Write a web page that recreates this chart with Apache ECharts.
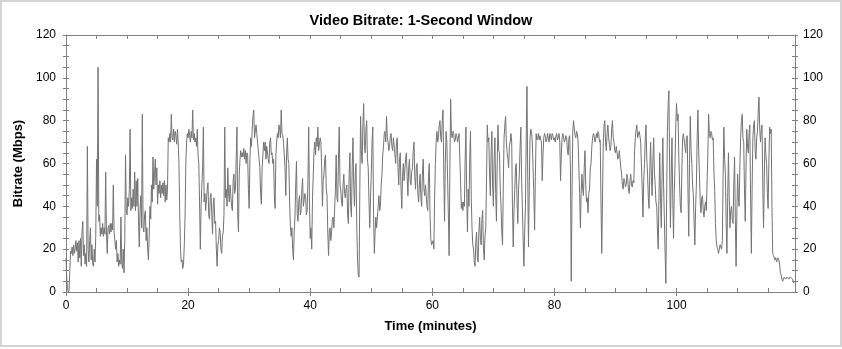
<!DOCTYPE html>
<html><head><meta charset="utf-8">
<script src="https://cdn.jsdelivr.net/npm/echarts@6/dist/echarts.min.js"></script>
<style>
html,body{margin:0;padding:0;background:#fff;}
#wrap{position:relative;width:842px;height:349px;overflow:hidden;}
#c{position:absolute;left:0;top:0;width:842px;height:349px;}
#frame{position:absolute;left:0;top:0;width:838px;height:343px;border:2px solid #d4d4d4;pointer-events:none;}
</style>
</head><body>
<div id="wrap"><div id="c"></div><div id="frame"></div></div>
<script>
// Sample spacing of the bitrate trace (minutes)
const SAMPLE_MIN = 0.125;
// Bitrate (Mbps), 8 samples per minute, split by 20-minute segments
const bitrate0to20 = [
 16,6,2,0,1,10,19,18, 21,17,22,18,20,24,19,23, 14,24,16,25,12,28,33,17, 22,13,18,12,68,20,14,24, 30,15,22,13,12,20,14,26,
 62,40,105,33,36,26,30,27, 32,26,30,27,56,28,18,30, 31,27,32,28,32,29,50,28, 28,20,24,14,18,12,15,13, 35,14,11,20,9,25,64,38,
 36,44,40,48,76,38,44,39, 48,40,56,38,52,40,53,33, 21,38,45,30,83,30,28,36, 38,24,30,20,15,26,40,34, 50,42,63,48,55,62,50,58,
 41,50,46,52,44,50,46,51, 45,52,42,50,43,48,72,70, 74,70,83,72,71,76,70,75, 73,69,76,70,60,38,20,14, 15,11,13,22,35,60,70,74
];
const bitrate20to40 = [
 72,76,73,70,75,72,85,71, 74,70,72,68,76,64,60,42, 20,40,50,58,77,42,46,38, 38,48,51,36,34,44,46,36, 27,42,44,32,33,20,12,22,
 24,30,28,20,18,26,28,36, 77,44,48,40,58,46,42,50, 50,40,38,52,55,46,48,62, 77,36,28,55,62,66,63,65, 63,67,62,66,60,65,64,48,
 39,62,72,68,76,82,85,72, 72,78,74,70,70,62,58,46, 41,58,64,70,66,70,62,68, 68,62,60,70,72,64,65,60, 62,45,39,64,70,74,72,78,
 76,72,85,74,73,70,70,58, 45,64,72,62,60,42,31,26, 30,20,15,28,35,50,61,36, 33,42,45,36,38,48,53,40, 40,46,44,36,38,52,77,42
];
const bitrate40to60 = [
 25,30,20,44,55,66,70,64, 72,68,77,66,66,72,70,58, 40,52,55,62,64,48,45,28, 17,28,30,24,28,34,35,30, 30,48,64,44,42,62,77,50,
 48,42,40,50,55,46,44,48, 50,36,32,55,65,40,35,58, 72,50,40,55,60,30,15,8, 7,48,82,66,60,78,88,68, 65,76,80,62,58,42,30,44,
 55,70,77,36,18,28,35,30, 30,40,45,38,40,50,55,64, 68,74,75,70,82,72,70,66, 68,73,74,68,66,72,72,64, 60,70,72,58,50,62,65,48,
 39,54,60,52,52,62,65,54, 45,58,62,52,50,56,58,66, 70,54,48,58,60,46,42,50, 55,44,40,55,62,48,45,50, 50,40,38,54,60,36,25,22
];
const bitrate60to80 = [
 22,24,20,44,60,70,75,70, 72,78,80,72,70,80,85,56, 33,60,75,70,70,36,17,58, 90,74,72,75,74,70,71,74, 73,70,70,74,74,52,39,42,
 38,42,40,62,77,46,28,48, 40,62,75,44,30,22,20,14, 12,24,28,16,14,28,35,24, 22,34,38,20,15,26,30,52, 78,70,72,55,45,64,75,50,
 40,62,72,46,33,60,78,66, 65,48,40,28,22,50,72,78, 82,70,65,62,58,68,70,74, 70,40,21,38,48,58,60,42, 32,48,55,68,77,52,40,24,
 12,28,40,72,96,55,21,48, 72,76,75,70,70,46,29,54, 74,71,72,74,71,73,73,70, 52,64,72,74,73,70,71,74, 72,70,74,73,71,74,73,71
];
const bitrate80to100 = [
 72,70,73,74,71,72,74,70, 52,64,72,74,74,70,71,73, 72,66,64,72,73,56,5,44, 75,80,80,73,72,75,74,70, 70,46,30,46,55,48,45,58,
 66,50,42,44,37,46,48,58, 60,68,72,74,73,70,71,74, 72,75,74,70,71,42,18,44, 70,78,80,70,66,74,78,72, 72,66,68,76,80,72,70,66,
 65,68,68,62,63,66,66,58, 55,50,48,53,52,49,50,55, 53,48,46,52,55,50,49,52, 51,66,72,76,78,72,72,75, 73,70,70,48,35,52,60,72,
 78,62,55,44,39,58,70,54, 45,62,72,56,50,42,40,28, 20,46,65,44,30,54,72,50, 35,18,4,44,75,88,94,56, 30,54,72,44,25,46,60,78
];
const bitrate100toEnd = [
 88,80,83,62,50,40,37,58, 72,74,74,68,65,72,73,46, 26,60,82,66,60,50,45,32, 22,40,50,72,85,66,55,42, 37,44,45,38,35,40,42,38,
 38,64,83,74,72,75,74,71, 72,56,47,32,24,21,20,18, 18,22,22,20,24,54,77,62, 55,32,18,44,65,44,30,38, 40,34,32,50,63,34,12,36,
 55,44,40,60,72,80,83,72, 70,48,33,58,76,68,65,74, 78,44,18,48,72,78,80,66, 62,72,75,84,91,76,70,76, 78,50,30,54,72,64,60,46,
 39,62,77,74,76,40,18,17, 17,15,16,14,14,16,15,13, 9,8,6,5,5,7,7,6, 6.5,7,7.5,6,6,7,7,6.5, 6,5,4
];
// Axis settings
const X_MAX = 119.4;
const xMajorTicks = [0, 20, 40, 60, 80, 100];
const xMinorTicks = [0,5,10,15,20,25,30,35,40,45,50,55,60,65,70,75,80,85,90,95,100,105,110,115];
const Y_MIN = 0, Y_MAX = 120, Y_STEP = 20;

const allValues = [].concat(bitrate0to20, bitrate20to40, bitrate40to60, bitrate60to80, bitrate80to100, bitrate100toEnd);
const seriesData = allValues.map((v, i) => [i * SAMPLE_MIN, v]);

const AX = '#808080';
const FONT = 'Liberation Sans, Arial, sans-serif';
const lbl = {color:'#000', fontSize:12, fontFamily:FONT};

function yAx(pos, withLabels, inside) {
  return {
    type:'value', position:pos, min:Y_MIN, max:Y_MAX, interval:Y_STEP,
    axisLine:{show:withLabels, onZero:false, lineStyle:{color:AX, width:1}},
    axisTick:{show:true, inside:inside, length:3, lineStyle:{color:AX}},
    minorTick:{show:true, splitNumber:4, length:3, lineStyle:{color:AX}},
    axisLabel:withLabels ? Object.assign({margin: pos==='left'?10:8}, lbl) : {show:false},
    splitLine:{show:false}, minorSplitLine:{show:false}
  };
}

const chart = echarts.init(document.getElementById('c'), null, {renderer:'canvas'});
const yAxes = [yAx('left', true, false), yAx('left', false, true), yAx('right', true, false), yAx('right', false, true)];
yAxes[0].name = 'Bitrate (Mbps)';
yAxes[0].nameLocation = 'middle';
yAxes[0].nameGap = 41;
yAxes[0].nameTextStyle = {color:'#000', fontSize:13, fontWeight:'bold', fontFamily:FONT};

chart.setOption({
  animation:false,
  backgroundColor:'#fff',
  title:{text:'Video Bitrate: 1-Second Window', left:'center', top:8,
    textStyle:{color:'#000', fontSize:14.5, fontWeight:'bold', fontFamily:FONT}},
  grid:{left:66, right:47, top:35, bottom:57},
  xAxis:[
    {type:'value', position:'bottom', min:0, max:X_MAX,
     axisLine:{show:true, onZero:false, lineStyle:{color:AX}},
     axisTick:{show:true, inside:false, length:4, customValues:xMajorTicks, lineStyle:{color:AX}},
     axisLabel:Object.assign({customValues:xMajorTicks, margin:8}, lbl),
     splitLine:{show:false},
     name:'Time (minutes)', nameLocation:'middle', nameGap:28,
     nameTextStyle:{color:'#000', fontSize:13, fontWeight:'bold', fontFamily:FONT}},
    {type:'value', position:'bottom', min:0, max:X_MAX,
     axisLine:{show:false, onZero:false},
     axisTick:{show:true, inside:true, length:4, customValues:xMinorTicks, lineStyle:{color:AX}},
     axisLabel:{show:false}, splitLine:{show:false}},
    {type:'value', position:'top', min:0, max:X_MAX,
     axisLine:{show:true, onZero:false, lineStyle:{color:AX}},
     axisTick:{show:true, inside:true, length:4, customValues:xMinorTicks, lineStyle:{color:AX}},
     axisLabel:{show:false}, splitLine:{show:false}}
  ],
  yAxis:yAxes,
  series:[{
    type:'line', xAxisIndex:0, yAxisIndex:0, data:seriesData,
    showSymbol:false, symbol:'none', sampling:null,
    lineStyle:{color:'#737373', width:1}
  }]
});
</script>
</body></html>
